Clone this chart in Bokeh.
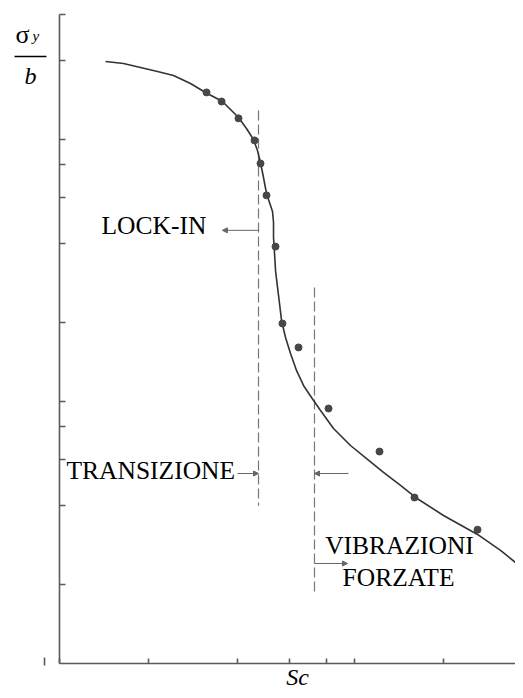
from bokeh.plotting import figure
from bokeh.models import Range1d, FixedTicker, Label, Arrow, NormalHead, BoxAnnotation
from bokeh.embed import file_html
from bokeh.resources import INLINE

# ---- data (log-log axes) ----
curve_sc = [0.0715, 0.08228, 0.09394, 0.10728, 0.12154, 0.13879, 0.15606, 0.17815,
            0.2019, 0.21484, 0.22691, 0.23411, 0.23966, 0.24534, 0.25119, 0.25717,
            0.26327, 0.26533, 0.26533, 0.26741, 0.26951, 0.27375, 0.27806, 0.28243,
            0.29139, 0.30299, 0.31745, 0.33528, 0.35689, 0.38297, 0.4238, 0.48387,
            0.55255, 0.62602, 0.715, 0.8038, 1.0, 1.3039, 1.5606, 1.8237]
curve_sy = [9.924, 9.751, 9.414, 9.088, 8.775, 8.178, 7.557, 6.982,
            6.067, 5.508, 5.0, 4.539, 4.085, 3.579, 3.111, 2.874,
            2.656, 2.411, 2.114, 1.836, 1.581, 1.362, 1.183, 1.019,
            0.8777, 0.7625, 0.6567, 0.5756, 0.518, 0.462, 0.3943, 0.3396,
            0.3003, 0.2679, 0.2391, 0.2151, 0.1836, 0.1554, 0.135, 0.1172]
point_sc = [0.1573, 0.1769, 0.2019, 0.2288, 0.2397, 0.2512, 0.2695, 0.2845, 0.3225,
            0.4076, 0.6068, 0.7973, 1.304]
point_sy = [7.56, 6.98, 6.02, 4.96, 4.05, 3.06, 1.95, 0.992, 0.804,
            0.470, 0.322, 0.215, 0.162]
x_ticks = [0.05, 0.1, 0.2, 0.3, 0.4, 0.5, 1.0]
y_ticks = [0.1, 0.2, 0.3, 0.4, 0.5, 1, 2, 3, 4, 5, 10, 15]

# regime boundaries (dashed lines) and their extents
bound_sc = [0.236, 0.3653]
bound_top = [6.45, 1.36]
bound_bottom = [0.200, 0.0909]

p = figure(width=515, height=690, x_axis_type="log", y_axis_type="log",
           x_range=Range1d(0.0315, 1.754), y_range=Range1d(0.03943, 16.96),
           output_backend="svg", toolbar_location=None,
           min_border_left=0, min_border_right=0, min_border_top=0, min_border_bottom=0)
p.outline_line_color = None
p.grid.visible = False
p.background_fill_color = "white"

axcol = "#5a5a5a"
xa, ya = p.xaxis[0], p.yaxis[0]
xa.fixed_location = 0.05
xa.bounds = (0.05, 2.0)
ya.fixed_location = 0.05
ya.bounds = (0.05, 15)
for ax, tks, tin in ((xa, x_ticks, 5), (ya, y_ticks, 6)):
    ax.ticker = FixedTicker(ticks=tks)
    ax.major_tick_in = tin
    ax.major_tick_out = 0
    ax.minor_tick_line_color = None
    ax.major_label_text_color = None
    ax.axis_line_color = axcol
    ax.axis_line_width = 1.6
    ax.major_tick_line_color = axcol
    ax.major_tick_line_width = 1.6

# small stray mark left of the origin
p.segment(x0=[0.04441], y0=[0.0527], x1=[0.04441], y1=[0.0491],
          line_color=axcol, line_width=1.6)

# dashed regime boundaries
p.segment(x0=bound_sc, y0=bound_top, x1=bound_sc, y1=bound_bottom,
          line_color="#777777", line_width=1.2, line_dash="10 4")

# fitted curve and measured points
p.line(curve_sc, curve_sy, line_color="#333333", line_width=1.6)
p.scatter(point_sc, point_sy, size=7, fill_color="#474747", line_color="#474747")

# arrows
acol = "#666666"
def arrow(x0, y0, x1, y1):
    p.add_layout(Arrow(x_start=x0, y_start=y0, x_end=x1, y_end=y1,
                       line_color=acol, line_width=1,
                       end=NormalHead(size=5, fill_color=acol, line_color=acol)))

arrow(bound_sc[0], 2.25, 0.178, 2.25)
arrow(0.2003, 0.2655, bound_sc[0], 0.2655)
arrow(0.4764, 0.2655, bound_sc[1], 0.2655)
arrow(bound_sc[1], 0.1204, 0.4727, 0.1204)

font = "Liberation Serif"
def lab(text, x, y, size, align="left", style="normal"):
    p.add_layout(Label(text=text, x=x, y=y, x_units="screen", y_units="screen",
                       text_font=font, text_font_size=size, text_align=align,
                       text_baseline="alphabetic", text_font_style=style,
                       text_color="black"))

lab("LOCK-IN", 101, 465, "25.5px")
lab("TRANSIZIONE", 66, 220, "25.5px")
lab("VIBRAZIONI", 399, 145, "25.5px", "center")
lab("FORZATE", 398, 113, "25.5px", "center")
lab("Sc", 297, 14, "24px", "center", "italic")
lab("\u03c3", 15, 656, "26px")
lab("y", 32, 655, "15px", "left", "italic")
lab("b", 30, 615, "24px", "center", "italic")
p.add_layout(BoxAnnotation(left=0.03514, right=0.0451, bottom=10.298, top=10.434,
                           fill_color="black", fill_alpha=1, line_color=None))

open("out.html", "w").write(file_html(p, INLINE))
